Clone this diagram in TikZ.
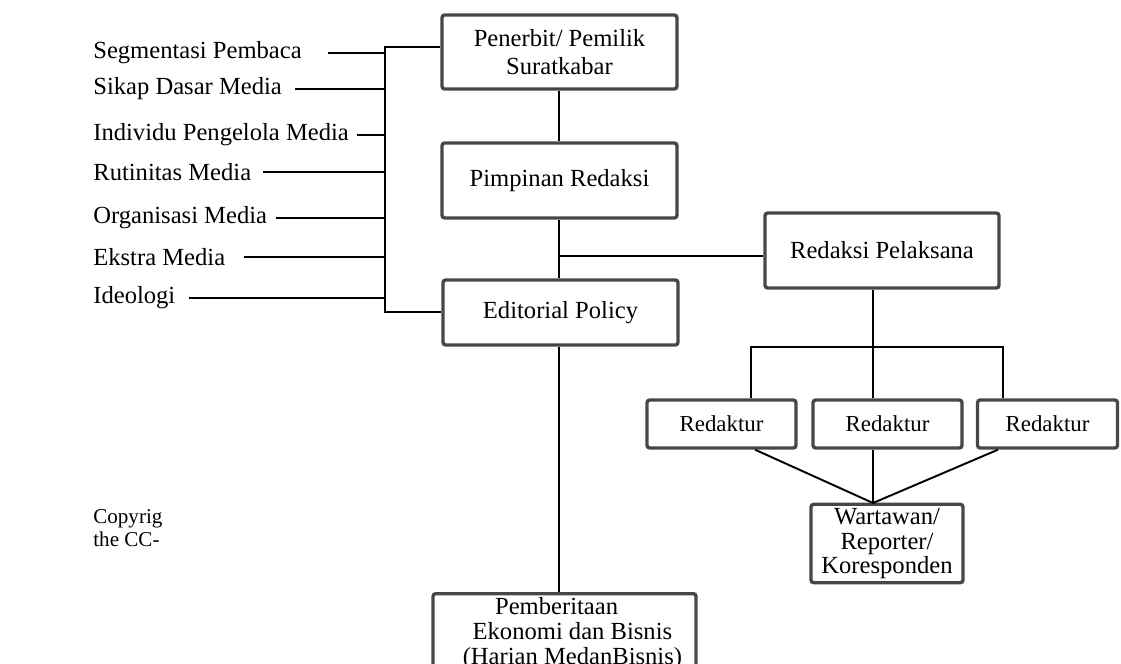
\documentclass[tikz,border=0pt]{standalone}
\usepackage{fontspec}
\setmainfont{Liberation Serif}
\usepackage{tikz}
\usetikzlibrary{calc}

\tikzset{
  kotak/.style={draw=black!72, line width=1.9pt, rounded corners=1.5pt, align=center, inner sep=2pt, font=\fontsize{14}{16}\selectfont},
  faktor/.style={anchor=west, inner sep=0pt, font=\fontsize{14}{16}\selectfont},
  garis/.style={line width=1.1pt}
}

\begin{document}
\begin{tikzpicture}[x=0.02cm, y=-0.02cm]
  \useasboundingbox (0,0) rectangle (1121,663);
  \clip (0,0) rectangle (1121,663);

  % struktur utama
  \node[kotak, minimum width=4.7cm, minimum height=1.48cm] (penerbit) at (559.5,52) {Penerbit/ Pemilik\\Suratkabar};
  \node[kotak, minimum width=4.7cm, minimum height=1.5cm] (pimpinan) at (559.5,180.5) {Pimpinan Redaksi};
  \node[kotak, minimum width=4.7cm, minimum height=1.3cm] (editorial) at (560.5,312.5) {Editorial Policy};
  \node[kotak, minimum width=5.26cm, anchor=north, font=\fontsize{14}{14.3}\selectfont] (pemberitaan) at (564.5,592)
    {Pemberitaan\rule{9pt}{0pt}\\ \rule{9pt}{0pt}Ekonomi dan Bisnis\\ \rule{9pt}{0pt}(Harian MedanBisnis)};
  \node[kotak, minimum width=4.68cm, minimum height=1.5cm] (pelaksana) at (882,250.5) {Redaksi Pelaksana};
  \node[kotak, minimum width=2.98cm, minimum height=0.96cm, font=\fontsize{13}{15}\selectfont] (red1) at (721.5,424) {Redaktur};
  \node[kotak, minimum width=2.98cm, minimum height=0.96cm, font=\fontsize{13}{15}\selectfont] (red2) at (887.5,424) {Redaktur};
  \node[kotak, minimum width=2.8cm, minimum height=0.96cm, font=\fontsize{13}{15}\selectfont] (red3) at (1047.5,424) {Redaktur};
  \node[kotak, minimum width=3.04cm, minimum height=1.54cm, font=\fontsize{14}{14.2}\selectfont] (wartawan) at (887,543.5) {Wartawan/\\Reporter/\\Koresponden};

  % faktor yang mempengaruhi
  \node[faktor] (f1) at (93,53) {Segmentasi Pembaca};
  \node[faktor] (f2) at (93,89) {Sikap Dasar Media};
  \node[faktor] (f3) at (93,135) {Individu Pengelola Media};
  \node[faktor] (f4) at (93,172) {Rutinitas Media};
  \node[faktor] (f5) at (93,218) {Organisasi Media};
  \node[faktor] (f6) at (93,257) {Ekstra Media};
  \node[faktor] (f7) at (93,298) {Ideologi};

  \node[anchor=west, inner sep=0pt, align=left, font=\fontsize{12}{13}\selectfont] (hakcipta) at (93,528) {Copyrig\\the CC-};

  \coordinate (bustop) at (385,47);
  \coordinate (busbot) at (385,312);
  \coordinate (cab) at (559,256);
  \coordinate (bagi) at (873,347);
  \coordinate (temu) at (873,503);

  \draw[garis] (penerbit.west |- bustop) -- (bustop) -- (busbot) -- (editorial.west |- busbot);
  \draw[garis] ([xshift=0.52cm]f1.east) -- (f1.east -| bustop);
  \draw[garis] ([xshift=0.26cm]f2.east) -- (f2.east -| bustop);
  \draw[garis] ([xshift=0.16cm]f3.east) -- (f3.east -| bustop);
  \draw[garis] ([xshift=0.22cm]f4.east) -- (f4.east -| bustop);
  \draw[garis] ([xshift=0.18cm]f5.east) -- (f5.east -| bustop);
  \draw[garis] ([xshift=0.36cm]f6.east) -- (f6.east -| bustop);
  \draw[garis] ([xshift=0.26cm]f7.east) -- (f7.east -| bustop);

  \draw[garis] (penerbit.south -| cab) -- (pimpinan.north -| cab);
  \draw[garis] (pimpinan.south -| cab) -- (editorial.north -| cab);
  \draw[garis] (cab) -- (cab -| pelaksana.west);
  \draw[garis] (editorial.south -| cab) -- (pemberitaan.north -| cab);

  \draw[garis] (pelaksana.south -| bagi) -- (bagi);
  \draw[garis] (red1.north -| 751,0) |- (bagi) -| (red3.north -| 1003,0);
  \draw[garis] (bagi) -- (red2.north -| bagi);

  \draw[garis] (red1.south -| 755,0) -- (temu);
  \draw[garis] (red2.south -| temu) -- (temu);
  \draw[garis] (red3.south -| 998,0) -- (temu);
  \draw[garis] (temu) -- (wartawan.north -| temu);
\end{tikzpicture}
\end{document}
